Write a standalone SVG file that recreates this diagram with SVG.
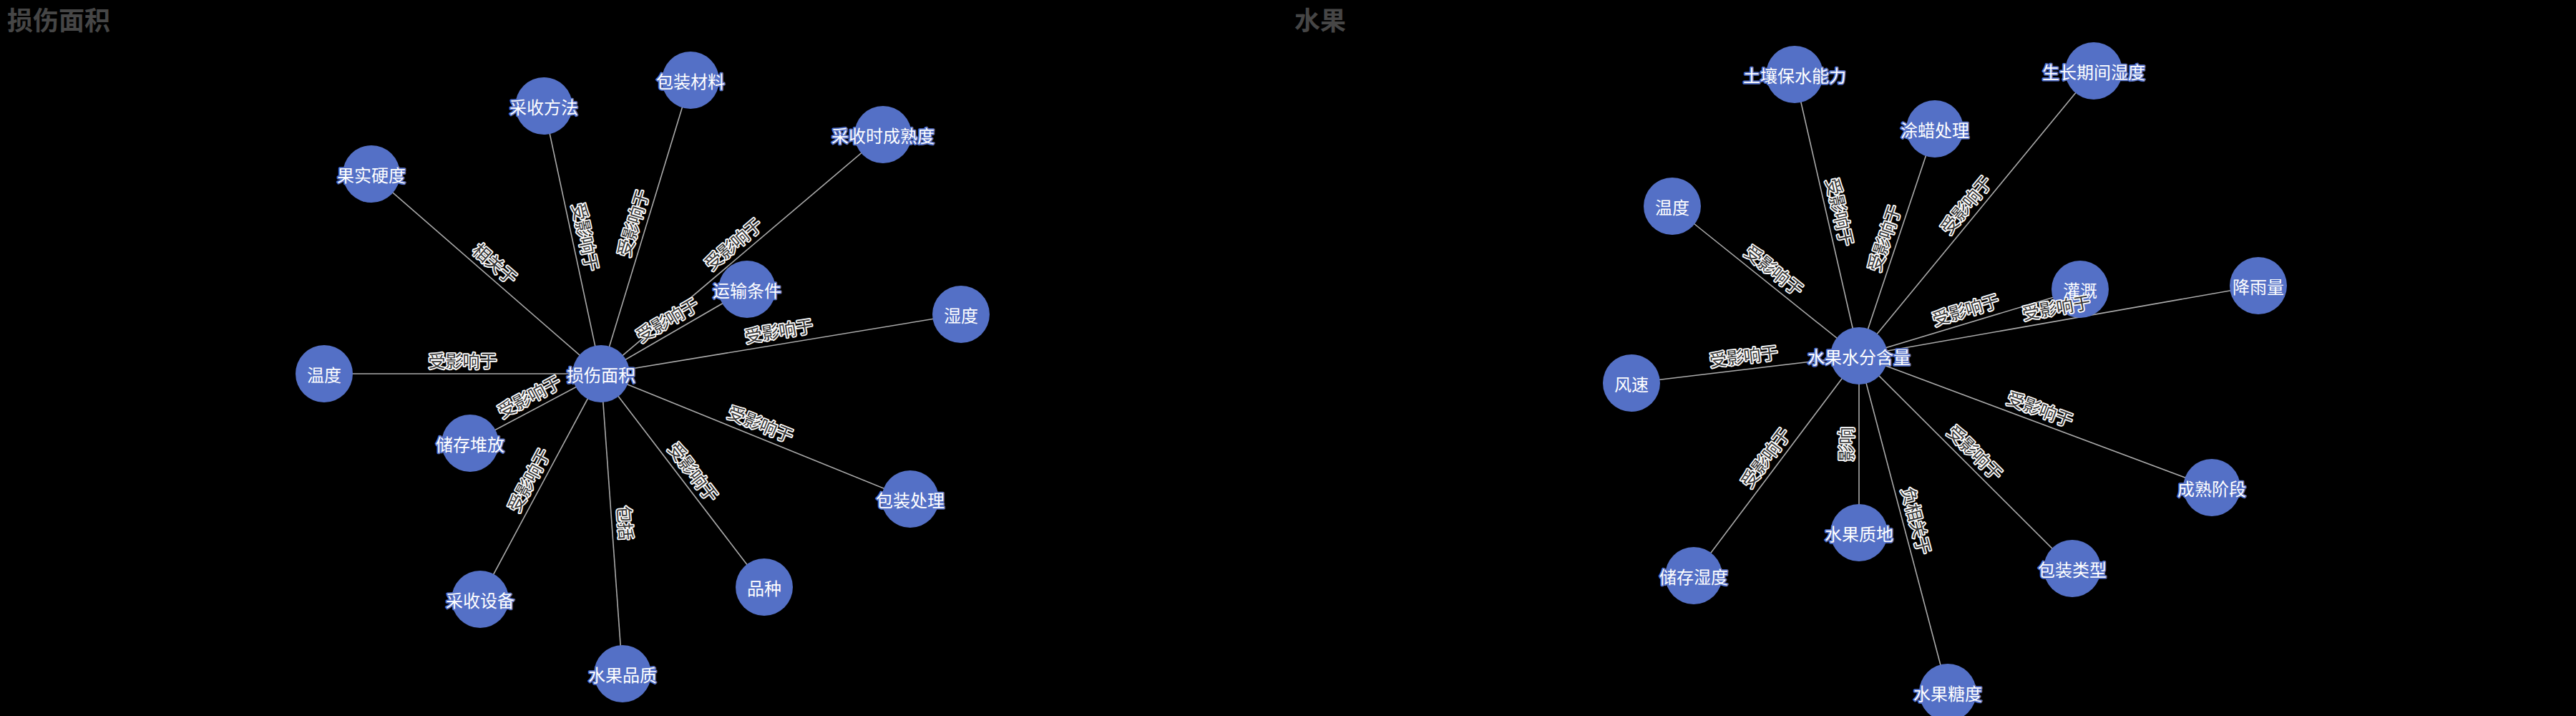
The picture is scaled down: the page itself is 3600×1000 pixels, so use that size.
<svg xmlns="http://www.w3.org/2000/svg" width="3600" height="1000" viewBox="0 0 3600 1000">
<style>
text{font-family:"Noto Sans CJK SC","Noto Sans",sans-serif}
.title{font-size:36px;font-weight:bold;fill:#464646}
.edge{stroke:#aaaaaa;stroke-width:1.6;fill:none}
.node circle{fill:#5470c6}
.node text{font-size:24px;fill:#ffffff;stroke:#5470c6;stroke-width:3.5;paint-order:stroke;stroke-linejoin:round;text-anchor:middle;dominant-baseline:central}
.elabel{font-size:24px;fill:#333333;stroke:#ffffff;stroke-width:3.5;paint-order:stroke;stroke-linejoin:round;text-anchor:middle;dominant-baseline:central}
</style>
<rect x="0" y="0" width="3600" height="1000" fill="#000000"/>
<text class="title" x="10" y="42">损伤面积</text>
<text class="title" x="1809" y="42">水果</text>

<g id="connectors">
<line class="edge" x1="840" y1="522" x2="519" y2="243"/>
<line class="edge" x1="840" y1="522" x2="760" y2="148"/>
<line class="edge" x1="840" y1="522" x2="965" y2="112"/>
<line class="edge" x1="840" y1="522" x2="1234" y2="188"/>
<line class="edge" x1="840" y1="522" x2="1044" y2="404"/>
<line class="edge" x1="840" y1="522" x2="1343" y2="439"/>
<line class="edge" x1="840" y1="522" x2="453" y2="522"/>
<line class="edge" x1="840" y1="522" x2="657" y2="619"/>
<line class="edge" x1="840" y1="522" x2="671" y2="837"/>
<line class="edge" x1="840" y1="522" x2="870" y2="941"/>
<line class="edge" x1="840" y1="522" x2="1068" y2="820"/>
<line class="edge" x1="840" y1="522" x2="1272" y2="697"/>

<line class="edge" x1="2598" y1="497" x2="2508" y2="104"/>
<line class="edge" x1="2598" y1="497" x2="2704" y2="180"/>
<line class="edge" x1="2598" y1="497" x2="2926" y2="99"/>
<line class="edge" x1="2598" y1="497" x2="2337" y2="288"/>
<line class="edge" x1="2598" y1="497" x2="2907" y2="404"/>
<line class="edge" x1="2598" y1="497" x2="3156" y2="399"/>
<line class="edge" x1="2598" y1="497" x2="2280" y2="535"/>
<line class="edge" x1="2598" y1="497" x2="2367" y2="804"/>
<line class="edge" x1="2598" y1="497" x2="2598" y2="744"/>
<line class="edge" x1="2598" y1="497" x2="2722" y2="967"/>
<line class="edge" x1="2598" y1="497" x2="2896" y2="794"/>
<line class="edge" x1="2598" y1="497" x2="3091" y2="681"/>
</g>

<g id="n-sunshang" class="node"><circle cx="840" cy="522" r="40"/><text x="840" y="522">损伤面积</text></g>
<g id="n-guoshiyingdu" class="node"><circle cx="519" cy="243" r="40"/><text x="519" y="243">果实硬度</text></g>
<g id="n-caishoufangfa" class="node"><circle cx="760" cy="148" r="40"/><text x="760" y="148">采收方法</text></g>
<g id="n-baozhuangcailiao" class="node"><circle cx="965" cy="112" r="40"/><text x="965" y="112">包装材料</text></g>
<g id="n-chengshudu" class="node"><circle cx="1234" cy="188" r="40"/><text x="1234" y="188">采收时成熟度</text></g>
<g id="n-yunshu" class="node"><circle cx="1044" cy="404" r="40"/><text x="1044" y="404">运输条件</text></g>
<g id="n-shidu1" class="node"><circle cx="1343" cy="439" r="40"/><text x="1343" y="439">湿度</text></g>
<g id="n-wendu1" class="node"><circle cx="453" cy="522" r="40"/><text x="453" y="522">温度</text></g>
<g id="n-chucunduifang" class="node"><circle cx="657" cy="619" r="40"/><text x="657" y="619">储存堆放</text></g>
<g id="n-caishoushebei" class="node"><circle cx="671" cy="837" r="40"/><text x="671" y="837">采收设备</text></g>
<g id="n-shuiguopinzhi" class="node"><circle cx="870" cy="941" r="40"/><text x="870" y="941">水果品质</text></g>
<g id="n-pinzhong" class="node"><circle cx="1068" cy="820" r="40"/><text x="1068" y="820">品种</text></g>
<g id="n-baozhuangchuli" class="node"><circle cx="1272" cy="697" r="40"/><text x="1272" y="697">包装处理</text></g>

<g id="n-shuifen" class="node"><circle cx="2598" cy="497" r="40"/><text x="2598" y="497">水果水分含量</text></g>
<g id="n-turang" class="node"><circle cx="2508" cy="104" r="40"/><text x="2508" y="104">土壤保水能力</text></g>
<g id="n-tula" class="node"><circle cx="2704" cy="180" r="40"/><text x="2704" y="180">涂蜡处理</text></g>
<g id="n-shengzhang" class="node"><circle cx="2926" cy="99" r="40"/><text x="2926" y="99">生长期间湿度</text></g>
<g id="n-wendu2" class="node"><circle cx="2337" cy="288" r="40"/><text x="2337" y="288">温度</text></g>
<g id="n-guangai" class="node"><circle cx="2907" cy="404" r="40"/><text x="2907" y="404">灌溉</text></g>
<g id="n-jiangyu" class="node"><circle cx="3156" cy="399" r="40"/><text x="3156" y="399">降雨量</text></g>
<g id="n-fengsu" class="node"><circle cx="2280" cy="535" r="40"/><text x="2280" y="535">风速</text></g>
<g id="n-chucunshidu" class="node"><circle cx="2367" cy="804" r="40"/><text x="2367" y="804">储存湿度</text></g>
<g id="n-zhidi" class="node"><circle cx="2598" cy="744" r="40"/><text x="2598" y="744">水果质地</text></g>
<g id="n-tangdu" class="node"><circle cx="2722" cy="967" r="40"/><text x="2722" y="967">水果糖度</text></g>
<g id="n-baozhuangleixing" class="node"><circle cx="2896" cy="794" r="40"/><text x="2896" y="794">包装类型</text></g>
<g id="n-chengshujieduan" class="node"><circle cx="3091" cy="681" r="40"/><text x="3091" y="681">成熟阶段</text></g>

<g id="edge-labels">
<text class="elabel" transform="translate(679.5 382.5) rotate(41.0)" x="0" y="-20">相关于</text>
<text class="elabel" transform="translate(800 335) rotate(77.93)" x="0" y="-20">受影响于</text>
<text class="elabel" transform="translate(902.5 317) rotate(-73.04)" x="0" y="-20">受影响于</text>
<text class="elabel" transform="translate(1037 355) rotate(-40.29)" x="0" y="-20">受影响于</text>
<text class="elabel" transform="translate(942 463) rotate(-30.04)" x="0" y="-20">受影响于</text>
<text class="elabel" transform="translate(1091.5 480.5) rotate(-9.37)" x="0" y="-20">受影响于</text>
<text class="elabel" transform="translate(646.5 522) rotate(0)" x="0" y="-20">受影响于</text>
<text class="elabel" transform="translate(748.5 570.5) rotate(-27.93)" x="0" y="-20">受影响于</text>
<text class="elabel" transform="translate(755.5 679.5) rotate(-61.79)" x="0" y="-20">受影响于</text>
<text class="elabel" transform="translate(855 731.5) rotate(85.9)" x="0" y="-20">包括</text>
<text class="elabel" transform="translate(954 671) rotate(52.58)" x="0" y="-20">受影响于</text>
<text class="elabel" transform="translate(1056 609.5) rotate(22.05)" x="0" y="-20">受影响于</text>

<text class="elabel" transform="translate(2553 300.5) rotate(77.1)" x="0" y="-20">受影响于</text>
<text class="elabel" transform="translate(2651 338.5) rotate(-71.51)" x="0" y="-20">受影响于</text>
<text class="elabel" transform="translate(2762 298) rotate(-50.51)" x="0" y="-20">受影响于</text>
<text class="elabel" transform="translate(2467.5 392.5) rotate(38.69)" x="0" y="-20">受影响于</text>
<text class="elabel" transform="translate(2752.5 450.5) rotate(-16.75)" x="0" y="-20">受影响于</text>
<text class="elabel" transform="translate(2877 448) rotate(-9.96)" x="0" y="-20">受影响于</text>
<text class="elabel" transform="translate(2439 516) rotate(-6.81)" x="0" y="-20">受影响于</text>
<text class="elabel" transform="translate(2482.5 650.5) rotate(-53.04)" x="0" y="-20">受影响于</text>
<text class="elabel" transform="translate(2598 620.5) rotate(-90)" x="0" y="-20">影响</text>
<text class="elabel" transform="translate(2660 732) rotate(75.22)" x="0" y="-20">负相关于</text>
<text class="elabel" transform="translate(2747 645.5) rotate(44.9)" x="0" y="-20">受影响于</text>
<text class="elabel" transform="translate(2844.5 589) rotate(20.47)" x="0" y="-20">受影响于</text>
</g>
</svg>
